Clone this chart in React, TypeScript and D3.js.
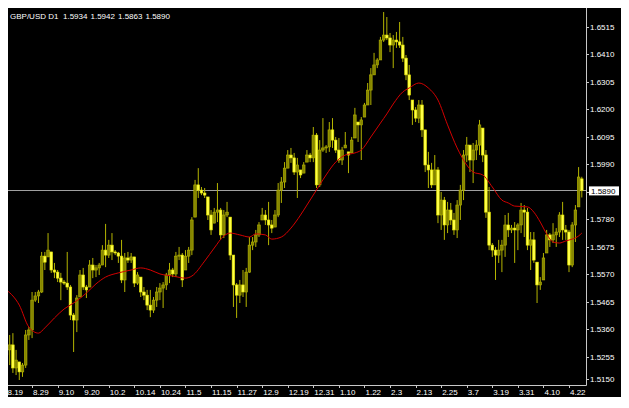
import * as d3 from "d3";
import { useEffect, useRef } from "react";

// header: symbol + last bar O H L C
const symbolTitle = "GBP/USD D1";
const lastQuote = [1.5934, 1.5942, 1.5863, 1.589];
const bidPrice = 1.589;

const priceTicks = [
  1.6515, 1.641, 1.6305, 1.62, 1.6095, 1.599, 1.5885, 1.578, 1.5675, 1.557, 1.5465, 1.536, 1.5255, 1.515,
];

const dateLabels = [
  "8.19", "8.29", "9.10", "9.20", "10.2", "10.14", "10.24", "11.5", "11.15", "11.27", "12.9", "12.19",
  "12.31", "1.10", "1.22", "2.3", "2.13", "2.25", "3.7", "3.19", "3.31", "4.10", "4.22",
];
const dateLabelBars = [0, 8, 16, 24, 32, 40, 48, 56, 64, 72, 80, 88, 96, 104, 112, 120, 128, 136, 144, 152, 160, 168, 176];

const opens = [
  1.5262, 1.5281, 1.53, 1.5212, 1.5235, 1.5197, 1.5223, 1.5338, 1.5357, 1.5471,
  1.5487, 1.5502, 1.5639, 1.5636, 1.5655, 1.5586, 1.5578, 1.5555, 1.554, 1.5536,
  1.5521, 1.5414, 1.5395, 1.5483, 1.5567, 1.5521, 1.5521, 1.5605, 1.5586, 1.5594,
  1.5605, 1.5662, 1.5643, 1.5681, 1.5655, 1.5651, 1.5639, 1.5548, 1.5632, 1.5624,
  1.5636, 1.5536, 1.5559, 1.5502, 1.549, 1.5452, 1.5433, 1.5471, 1.5502, 1.5517,
  1.5529, 1.5567, 1.5586, 1.5571, 1.5639, 1.5643, 1.5586, 1.5639, 1.5662, 1.5788,
  1.5911, 1.5891, 1.588, 1.5865, 1.5796, 1.5765, 1.5807, 1.5815, 1.572, 1.5796,
  1.5788, 1.5643, 1.5529, 1.549, 1.5529, 1.5502, 1.5578, 1.5681, 1.5693, 1.572,
  1.5777, 1.5796, 1.5777, 1.5758, 1.575, 1.5796, 1.5891, 1.5922, 1.5975, 1.6025,
  1.6014, 1.596, 1.5968, 1.5956, 1.5998, 1.6025, 1.6014, 1.6101, 1.5911, 1.6044,
  1.6052, 1.6056, 1.6121, 1.6082, 1.6044, 1.6006, 1.6052, 1.6037, 1.6033, 1.609,
  1.6151, 1.614, 1.617, 1.6216, 1.6273, 1.6331, 1.6369, 1.6388, 1.6464, 1.6483,
  1.6472, 1.6445, 1.6464, 1.6457, 1.6445, 1.6395, 1.6331, 1.6235, 1.6197, 1.6166,
  1.6216, 1.6121, 1.5987, 1.5968, 1.5911, 1.5968, 1.5796, 1.5853, 1.5758, 1.5815,
  1.5777, 1.5739, 1.5834, 1.5891, 1.6025, 1.6063, 1.6006, 1.6044, 1.6063, 1.6128,
  1.6025, 1.5807, 1.5681, 1.5662, 1.5643, 1.5662, 1.5681, 1.5758, 1.5739, 1.5746,
  1.5739, 1.5758, 1.5815, 1.5807, 1.5681, 1.5701, 1.5616, 1.5529, 1.5548, 1.5651,
  1.572, 1.5701, 1.572, 1.5731, 1.5796, 1.5739, 1.5731, 1.5605, 1.5758, 1.5827,
  1.5934,
];
const highs = [
  1.5307, 1.5338, 1.5345, 1.5281, 1.5235, 1.5231, 1.5357, 1.5368, 1.5502, 1.5502,
  1.551, 1.5655, 1.5655, 1.5727, 1.5655, 1.5613, 1.5586, 1.5575, 1.5548, 1.5655,
  1.5529, 1.5422, 1.549, 1.5586, 1.5594, 1.5529, 1.5624, 1.5632, 1.5605, 1.5613,
  1.5681, 1.5762, 1.5701, 1.5727, 1.5662, 1.5655, 1.5701, 1.5651, 1.5655, 1.5651,
  1.5636, 1.5578, 1.5559, 1.5521, 1.551, 1.551, 1.5483, 1.5521, 1.5536, 1.554,
  1.5575, 1.5613, 1.5594, 1.5655, 1.5674, 1.5651, 1.5662, 1.5674, 1.5788, 1.593,
  1.5975, 1.5903, 1.5899, 1.5865, 1.5815, 1.5823, 1.5918, 1.5823, 1.5815, 1.5846,
  1.5788, 1.5643, 1.5536, 1.5548, 1.5586, 1.5594, 1.5712, 1.5712, 1.5739, 1.5769,
  1.5823, 1.5815, 1.5846, 1.5777, 1.5815, 1.5918, 1.5941, 1.5998, 1.6044, 1.6052,
  1.6033, 1.6014, 1.5968, 1.5998, 1.6044, 1.6033, 1.6132, 1.6109, 1.6082, 1.6166,
  1.6063, 1.6151, 1.6166, 1.6094, 1.609, 1.6056, 1.6113, 1.6037, 1.6094, 1.6205,
  1.6151, 1.617, 1.6224, 1.63, 1.6357, 1.6415, 1.6395, 1.6476, 1.6571, 1.6552,
  1.6491, 1.6483, 1.6495, 1.6533, 1.6476, 1.6407, 1.6369, 1.6235, 1.6208, 1.6235,
  1.6235, 1.6121, 1.6037, 1.5995, 1.6025, 1.5979, 1.5884, 1.5865, 1.5846, 1.5842,
  1.5804, 1.5853, 1.5911, 1.6044, 1.6094, 1.6063, 1.6071, 1.6082, 1.6159, 1.6128,
  1.6044, 1.5903, 1.5689, 1.5674, 1.5701, 1.5701, 1.5796, 1.5804, 1.5758, 1.5769,
  1.5765, 1.5842, 1.5834, 1.5823, 1.5731, 1.5731, 1.5616, 1.5559, 1.5651, 1.5739,
  1.5727, 1.5765, 1.5746, 1.5807, 1.5846, 1.5758, 1.5739, 1.5769, 1.5834, 1.5979,
  1.5942,
];
const lows = [
  1.5242, 1.5223, 1.5193, 1.5185, 1.5166, 1.5178, 1.5212, 1.5319, 1.5326, 1.5464,
  1.546, 1.5498, 1.5586, 1.5636, 1.5575, 1.5555, 1.554, 1.5471, 1.5529, 1.551,
  1.5395, 1.5273, 1.5349, 1.5483, 1.551, 1.5479, 1.5521, 1.5555, 1.5559, 1.5567,
  1.5605, 1.5597, 1.5632, 1.5624, 1.5643, 1.5613, 1.5536, 1.5502, 1.5613, 1.5613,
  1.5521, 1.5529, 1.5483, 1.5471, 1.5433, 1.5406, 1.5422, 1.5445, 1.5471, 1.5441,
  1.551, 1.5536, 1.5559, 1.5559, 1.5624, 1.5521, 1.5586, 1.5613, 1.5643, 1.5788,
  1.5861, 1.5872, 1.5861, 1.5777, 1.572, 1.5765, 1.5769, 1.5701, 1.5708, 1.5788,
  1.5624, 1.5445, 1.5403, 1.546, 1.5483, 1.5445, 1.5575, 1.5662, 1.5674, 1.5712,
  1.5777, 1.5758, 1.5681, 1.5727, 1.575, 1.5788, 1.5842, 1.5899, 1.5975, 1.5995,
  1.5949, 1.5861, 1.5937, 1.5956, 1.5998, 1.5998, 1.5998, 1.5899, 1.5903, 1.6037,
  1.6033, 1.6037, 1.6052, 1.6033, 1.5995, 1.5987, 1.6052, 1.5956, 1.6033, 1.609,
  1.6075, 1.6006, 1.617, 1.6216, 1.6216, 1.6331, 1.6357, 1.6388, 1.6457, 1.6464,
  1.6418, 1.6357, 1.6434, 1.6434, 1.638, 1.6311, 1.6235, 1.614, 1.6151, 1.6147,
  1.6094, 1.596, 1.5899, 1.5899, 1.5911, 1.5765, 1.5739, 1.5701, 1.5727, 1.5758,
  1.572, 1.5708, 1.5777, 1.5853, 1.5998, 1.596, 1.5918, 1.6006, 1.6025, 1.5998,
  1.5785, 1.5662, 1.5636, 1.5548, 1.5613, 1.5578, 1.5636, 1.5712, 1.5727, 1.5613,
  1.5662, 1.5727, 1.5712, 1.5662, 1.5586, 1.5613, 1.546, 1.551, 1.5548, 1.5651,
  1.5674, 1.5689, 1.5674, 1.5712, 1.5701, 1.5701, 1.5578, 1.5597, 1.5693, 1.5827,
  1.5863,
];
const closes = [
  1.5281, 1.53, 1.5212, 1.5242, 1.5197, 1.5223, 1.5338, 1.5357, 1.5471, 1.5487,
  1.5502, 1.5639, 1.5616, 1.5662, 1.5586, 1.5578, 1.5555, 1.554, 1.5536, 1.5521,
  1.5414, 1.5395, 1.5479, 1.5567, 1.5521, 1.551, 1.5605, 1.5586, 1.5594, 1.5605,
  1.5662, 1.5643, 1.5681, 1.5655, 1.5651, 1.5639, 1.5548, 1.5632, 1.5624, 1.5636,
  1.5536, 1.5567, 1.5502, 1.549, 1.5452, 1.5433, 1.5471, 1.5502, 1.5517, 1.5529,
  1.5567, 1.5586, 1.5571, 1.5639, 1.5643, 1.5548, 1.5639, 1.5662, 1.5777, 1.5911,
  1.5891, 1.588, 1.5872, 1.5796, 1.5739, 1.5807, 1.5815, 1.572, 1.5796, 1.5807,
  1.5643, 1.5529, 1.549, 1.5529, 1.5502, 1.5578, 1.5681, 1.5693, 1.572, 1.5758,
  1.5796, 1.5777, 1.5758, 1.5746, 1.5796, 1.5891, 1.5922, 1.5975, 1.6025, 1.6014,
  1.596, 1.5987, 1.5949, 1.5987, 1.6025, 1.6014, 1.6101, 1.5911, 1.6044, 1.6052,
  1.6056, 1.6121, 1.6082, 1.6044, 1.6006, 1.6044, 1.6063, 1.6025, 1.6082, 1.6178,
  1.614, 1.6159, 1.6216, 1.6273, 1.6331, 1.6369, 1.6388, 1.6464, 1.6483, 1.6472,
  1.6445, 1.6464, 1.6457, 1.6445, 1.6395, 1.6331, 1.6254, 1.6197, 1.6166, 1.6216,
  1.6121, 1.5987, 1.5968, 1.5911, 1.5968, 1.5796, 1.5853, 1.5758, 1.5815, 1.5777,
  1.5739, 1.5834, 1.5891, 1.6025, 1.6063, 1.6006, 1.6044, 1.6063, 1.614, 1.6025,
  1.5807, 1.5681, 1.5662, 1.5643, 1.5662, 1.5681, 1.5758, 1.5739, 1.5746, 1.5739,
  1.5758, 1.5815, 1.5807, 1.5681, 1.5701, 1.5624, 1.5529, 1.554, 1.5632, 1.572,
  1.5701, 1.572, 1.5731, 1.5796, 1.5739, 1.5731, 1.5605, 1.5758, 1.5815, 1.5941,
  1.589,
];

// moving average (red line), read at these bars
const maBars = [
  0, 4, 7, 10, 12, 15, 18, 21, 25, 28, 31, 35, 39, 42, 45, 48, 52, 56, 58, 62,
  65, 68, 70, 73, 76, 78, 81, 83, 86, 89, 92, 94, 98, 100, 103, 106, 109, 111, 114, 117,
  119, 121, 124, 126, 129, 132, 135, 138, 141, 144, 146, 149, 152, 155, 157, 159, 163, 165, 167, 169,
  171, 173, 175, 177, 179, 180,
];
const maValues = [
  1.551, 1.5452, 1.5368, 1.5345, 1.5365, 1.5403, 1.5437, 1.546, 1.5498, 1.5533,
  1.5559, 1.5575, 1.5586, 1.5594, 1.5586, 1.5571, 1.5563, 1.5555, 1.5563, 1.562,
  1.567, 1.5716, 1.5727, 1.572, 1.5712, 1.5724, 1.572, 1.5704, 1.5712, 1.5746,
  1.5796, 1.5834, 1.5911, 1.5949, 1.5998, 1.6025, 1.6033, 1.6044, 1.6094, 1.6147,
  1.6182, 1.622, 1.6266, 1.6281, 1.63, 1.6281, 1.6235, 1.614, 1.6052, 1.5987,
  1.596, 1.5949, 1.5903, 1.5853, 1.5842, 1.583, 1.5827, 1.5807, 1.5769, 1.5724,
  1.5693, 1.5689, 1.5697, 1.5704, 1.5716, 1.5727,
];

function App() {
  const ref = useRef<SVGSVGElement>(null);

  useEffect(() => {
    const width = 614;
    const height = 389;
    const plotRight = 578;
    const plotBottom = 377;
    const font = "'Liberation Sans', Arial, sans-serif";

    const svg = d3.select(ref.current);
    svg.selectAll("*").remove();

    svg.append("rect").attr("width", width).attr("height", height).attr("fill", "#000");

    const x = d3.scaleLinear().domain([0, 180]).range([-1.5, 573.8]);
    const y = d3.scaleLinear().domain([1.515, 1.6515]).range([376.2, 18.7]);

    svg.append("clipPath").attr("id", "plotclip")
      .append("rect").attr("x", 0).attr("y", 0).attr("width", plotRight).attr("height", plotBottom);

    const plot = svg.append("g").attr("clip-path", "url(#plotclip)");

    // bid line
    plot.append("line")
      .attr("x1", 0).attr("x2", plotRight)
      .attr("y1", Math.round(y(bidPrice)) + 0.5).attr("y2", Math.round(y(bidPrice)) + 0.5)
      .attr("stroke", "#a0a0a0").attr("stroke-width", 1);

    // candles
    const bars = d3.range(opens.length).map(i => ({
      i, o: opens[i], h: highs[i], l: lows[i], c: closes[i],
    }));
    const bodyW = 2.6;

    plot.append("g").selectAll("line")
      .data(bars)
      .join("line")
      .attr("x1", d => x(d.i)).attr("x2", d => x(d.i))
      .attr("y1", d => y(d.h)).attr("y2", d => y(d.l))
      .attr("stroke", "#b4b400").attr("stroke-width", 1);

    plot.append("g").selectAll("rect")
      .data(bars)
      .join("rect")
      .attr("x", d => x(d.i) - bodyW / 2)
      .attr("y", d => y(Math.max(d.o, d.c)))
      .attr("width", bodyW)
      .attr("height", d => Math.max(1, Math.abs(y(d.o) - y(d.c))))
      .attr("fill", d => d.c < d.o ? "#ffff46" : "#868600")
      .attr("stroke", d => d.c < d.o ? "#e6e600" : "#b4b400")
      .attr("stroke-width", 0.6);

    // moving average
    const line = d3.line<number>()
      .x((_, k) => x(maBars[k]))
      .y(d => y(d))
      .curve(d3.curveMonotoneX);
    plot.append("path")
      .attr("d", line(maValues))
      .attr("fill", "none")
      .attr("stroke", "#d40000")
      .attr("stroke-width", 1);

    // axes frame
    svg.append("line")
      .attr("x1", plotRight + 0.5).attr("x2", plotRight + 0.5)
      .attr("y1", 0).attr("y2", plotBottom + 0.5)
      .attr("stroke", "#c8c8c8");
    svg.append("line")
      .attr("x1", 0).attr("x2", plotRight + 0.5)
      .attr("y1", plotBottom + 0.5).attr("y2", plotBottom + 0.5)
      .attr("stroke", "#c8c8c8");

    // price scale
    const tickY = (t: number) => Math.min(y(t), plotBottom - 6);
    const priceAxis = svg.append("g");
    priceAxis.selectAll("line")
      .data(priceTicks)
      .join("line")
      .attr("x1", plotRight + 1).attr("x2", plotRight + 3)
      .attr("y1", d => Math.round(tickY(d)) + 0.5).attr("y2", d => Math.round(tickY(d)) + 0.5)
      .attr("stroke", "#c8c8c8");
    priceAxis.selectAll("text")
      .data(priceTicks)
      .join("text")
      .attr("x", plotRight + 4)
      .attr("y", d => tickY(d))
      .attr("dy", "0.35em")
      .attr("fill", "#fff")
      .style("font-family", font)
      .style("font-size", "8px")
      .text(d => d.toFixed(4));

    // bid price box
    const by = y(bidPrice);
    svg.append("rect")
      .attr("x", plotRight + 3).attr("y", by - 4)
      .attr("width", 30).attr("height", 9)
      .attr("fill", "#fff");
    svg.append("text")
      .attr("x", plotRight + 5).attr("y", by + 0.5)
      .attr("dy", "0.35em")
      .attr("fill", "#000")
      .style("font-family", font)
      .style("font-size", "8px")
      .text(bidPrice.toFixed(4));

    // date scale
    const dateAxis = svg.append("g");
    dateAxis.selectAll("line")
      .data(dateLabelBars)
      .join("line")
      .attr("x1", d => Math.round(x(d)) + 0.5).attr("x2", d => Math.round(x(d)) + 0.5)
      .attr("y1", plotBottom + 1).attr("y2", plotBottom + 3)
      .attr("stroke", "#c8c8c8");
    dateAxis.selectAll("text")
      .data(dateLabels)
      .join("text")
      .attr("x", (_, k) => x(dateLabelBars[k]) + 1)
      .attr("y", plotBottom + 10)
      .attr("fill", "#fff")
      .style("font-family", font)
      .style("font-size", "8px")
      .text(d => d);

    // header
    const header = svg.append("g").style("font-family", font).style("font-size", "8px").attr("fill", "#fff");
    header.append("text").attr("x", 2).attr("y", 11).text(symbolTitle);
    header.selectAll("text.q")
      .data(lastQuote)
      .join("text")
      .attr("class", "q")
      .attr("x", (_, k) => 55 + k * 27.5)
      .attr("y", 11)
      .text(d => d.toFixed(4));
  }, []);

  return <svg ref={ref} width={614} height={389} style={{ display: "block" }} />;
}

export default App;
